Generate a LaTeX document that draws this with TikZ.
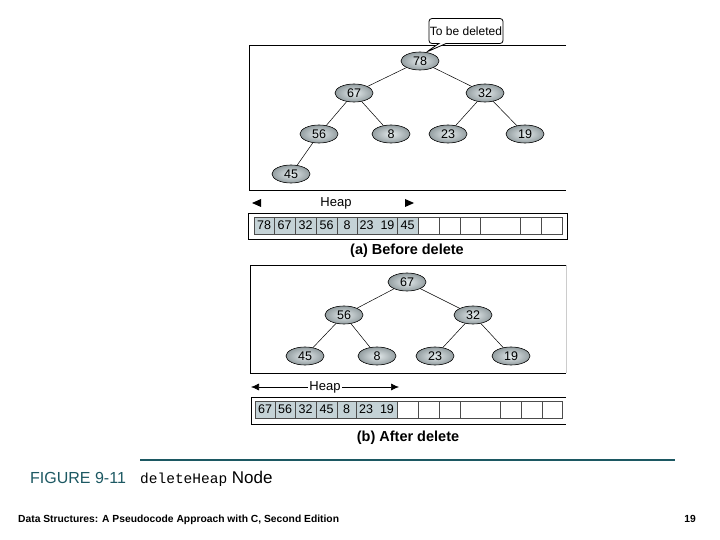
\documentclass[tikz,border=0pt]{standalone}
\usepackage{fontspec}
\setmainfont{Liberation Sans}
\setmonofont{Liberation Mono}
\usetikzlibrary{shapes,shapes.callouts,arrows.meta,positioning,calc}
\definecolor{keyfill}{RGB}{196,210,214}
\definecolor{figteal}{RGB}{28,88,98}

\begin{document}
\begin{tikzpicture}[x=1pt, y=-1pt,
  key/.style={ellipse, draw, line width=0.6pt, inner color=keyfill!45!white, outer color=keyfill!75!black, minimum width=38pt, minimum height=18pt, inner sep=0pt, font=\fontsize{12.5}{12.5}\selectfont},
  link/.style={line width=0.5pt},
  frame/.style={line width=0.8pt},
  cellbox/.style={draw=gray!60!black, line width=0.6pt, fill=keyfill},
  emptybox/.style={draw=gray!60!black, line width=0.6pt, fill=white},
  celltext/.style={font=\fontsize{12.5}{12.5}\selectfont},
  caption/.style={font=\bfseries\fontsize{14.5}{14.5}\selectfont},
  heaptip/.style={-{Latex[length=8pt,width=7pt]}}]
\useasboundingbox (0,0) rectangle (720,540);

% (a) before delete
\draw[frame] (566,45) -- (249,45) -- (249,190) -- (566,190);
\node[key] (a78) at (420,61) {78};
\node[key] (a67) at (354,93) {67};
\node[key] (a32) at (485,93) {32};
\node[key] (a56) at (319,134) {56};
\node[key] (a8) at (391,134) {8};
\node[key] (a23) at (448,134) {23};
\node[key] (a19) at (525,134) {19};
\node[key] (a45) at (291,174) {45};
\draw[link] (a78) -- (a67);
\draw[link] (a78) -- (a32);
\draw[link] (a67) -- (a56);
\draw[link] (a67) -- (a8);
\draw[link] (a32) -- (a23);
\draw[link] (a32) -- (a19);
\draw[link] (a56) -- (a45);
\node[rectangle callout, draw, line width=0.8pt, fill=white, rounded corners=3pt, minimum width=73pt, minimum height=25pt, inner sep=1pt, font=\fontsize{12}{12}\selectfont, callout absolute pointer={(a78.55)}] (del) at (466,31) {To be deleted};

\fill (252,203) -- (261,199) -- (261,207) -- cycle;
\fill (414,203) -- (405,199) -- (405,207) -- cycle;
\node[font=\fontsize{13}{13}\selectfont] (heapa) at (336,203) {Heap};
\draw[frame] (248,213) rectangle (567,239);
\foreach \l/\r/\v in {254/274/78,274/295/67,295/316/32,316/337/56,337/357/8,357/397/{23\hspace{7pt}19},397/418/45}{
  \draw[cellbox] (\l,217) rectangle (\r,234);
  \node[celltext] at ({(\l+\r)/2},225.5) {\v};
}
\foreach \l/\r in {418/439,439/460,460/480,480/520,520/541,541/562}
  \draw[emptybox] (\l,217) rectangle (\r,234);
\node[caption] (capa) at (407,251) {(a) Before delete};

% (b) after delete
\draw[frame] (566,265) -- (250,265) -- (250,373) -- (566,373);
\draw[gray!40, line width=0.8pt] (566,265) -- (566,373);
\node[key] (b67) at (407,282) {67};
\node[key] (b56) at (344,315) {56};
\node[key] (b32) at (473,315) {32};
\node[key] (b45) at (305,356) {45};
\node[key] (b8) at (377,356) {8};
\node[key] (b23) at (435,356) {23};
\node[key] (b19) at (511,356) {19};
\draw[link] (b67) -- (b56);
\draw[link] (b67) -- (b32);
\draw[link] (b56) -- (b45);
\draw[link] (b56) -- (b8);
\draw[link] (b32) -- (b23);
\draw[link] (b32) -- (b19);

\coordinate (hl) at (251,387);
\coordinate (hr) at (399,387);
\draw[heaptip, line width=0.6pt] ($(hl)!0.5!(hr)$) -- (hr);
\draw[heaptip, line width=0.6pt] ($(hl)!0.5!(hr)$) -- (hl);
\node[fill=white, inner sep=1pt, font=\fontsize{13}{13}\selectfont] (heapb) at (325,387) {Heap};
\draw[frame] (566,397) -- (251,397) -- (251,424) -- (566,424);
\foreach \l/\r/\v in {255/275/67,275/295/56,295/316/32,316/337/45,337/356/8,356/397/{23\hspace{7pt}19}}{
  \draw[cellbox] (\l,401) rectangle (\r,418);
  \node[celltext] at ({(\l+\r)/2},409.5) {\v};
}
\foreach \l/\r in {397/418,418/439,439/460,460/500,500/521,521/542,542/562}
  \draw[emptybox] (\l,401) rectangle (\r,418);
\node[caption] (capb) at (408,438) {(b) After delete};

% figure caption and footer
\draw[figteal, line width=1.6pt] (140,460) -- (675,460);
\node[anchor=base west, text=figteal, inner sep=0pt, font=\fontsize{16}{16}\selectfont] (fignum) at (30,483) {FIGURE 9-11};
\node[anchor=base west, inner sep=0pt, font=\fontsize{17}{17}\selectfont] (figttl) at (140,483) {{\ttfamily\fontsize{14.5}{14.5}\selectfont deleteHeap} Node};
\node[anchor=base west, inner sep=0pt, font=\bfseries\fontsize{10.3}{10.3}\selectfont] (foot) at (18,522) {Data Structures: A Pseudocode Approach with C, Second Edition};
\node[anchor=base, inner sep=0pt, font=\bfseries\fontsize{10.3}{10.3}\selectfont] (page) at (690,522) {19};
\end{tikzpicture}
\end{document}
